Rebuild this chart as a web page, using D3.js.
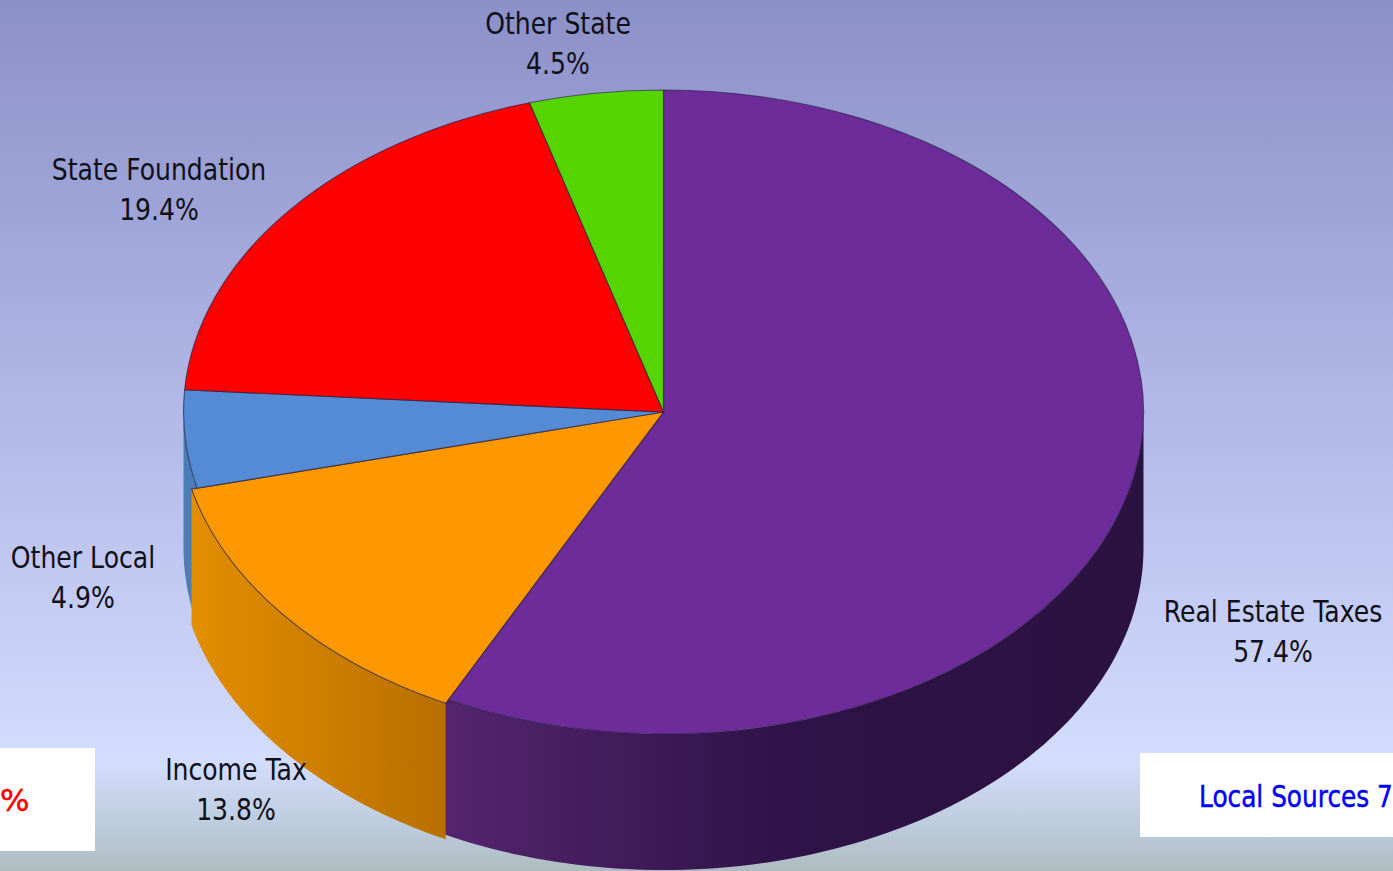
<!DOCTYPE html>
<html>
<head>
<meta charset="utf-8">
<script src="https://cdn.jsdelivr.net/npm/d3@7/dist/d3.min.js"></script>
<style>
  html, body { margin: 0; padding: 0; background: #d4deff; overflow: hidden; }
  svg { display: block; }
  text { font-family: "DejaVu Sans", sans-serif; }
</style>
</head>
<body>
<svg id="chart" width="1393" height="871"></svg>
<script>
// Revenue shares, clockwise from twelve o'clock
const categories = ["Real Estate Taxes", "Income Tax", "Other Local", "State Foundation", "Other State"];
const shares = [57.4, 13.8, 4.9, 19.4, 4.5];
const shareLabels = ["57.4%", "13.8%", "4.9%", "19.4%", "4.5%"];
const topColors = ["#6d2c9a", "#fd9800", "#558ad4", "#ff0000", "#55d400"];
const wallStops = [
  [["0", "#54256f"], ["0.5", "#2f1247"], ["1", "#2b1240"]],
  [["0", "#e38e00"], ["1", "#b86f00"]],
  [["0", "#4c7db8"], ["1", "#4c7db8"]],
  [["0", "#cc0000"], ["1", "#cc0000"]],
  [["0", "#44aa00"], ["1", "#44aa00"]]
];
// The income tax wedge sits very slightly proud of the rest of the disc
const rimScale = [1, 1.012, 1, 1, 1];

// Label centres and the boxes along the bottom edge
const labelCentres = [[1273, 611], [236, 769], [83, 557], [159, 169], [558, 23]];
const boxes = [
  { x: -2, y: 748, width: 97, height: 103 },
  { x: 1140, y: 753, width: 255, height: 84 }
];
const boxTexts = [
  { text: "%", x: 0, y: 811, color: "#ff0000", stretch: 1 },
  { text: "Local Sources 7", x: 1199, y: 807, color: "#0000ff", stretch: 0.8 }
];

const centre = { x: 663.5, y: 412 };
const rx = 480, ry = 322, depth = 136;

const svg = d3.select("#chart");
const defs = svg.append("defs");

// Backdrop: blue-violet wash that turns grey-green at the foot
const bg = defs.append("linearGradient").attr("id", "backdrop")
  .attr("x1", 0).attr("y1", 0).attr("x2", 0).attr("y2", 1);
[[0, "#8c90c8"], [0.45, "#b0b6e6"], [0.875, "#d3ddfd"], [0.95, "#bccbdc"], [1, "#aebcc0"]]
  .forEach(([o, c]) => bg.append("stop").attr("offset", o).attr("stop-color", c));
svg.append("rect").attr("width", 1393).attr("height", 871).attr("fill", "url(#backdrop)");

const pie = d3.pie().sort(null).value(d => d.value);
const slices = pie(categories.map((name, i) => ({ name, value: shares[i], i })));

// Ellipse coordinates for a pie angle (0 at the top, clockwise)
const ex = (a, k) => centre.x + k * rx * Math.sin(a);
const ey = (a, k) => centre.y - k * ry * Math.cos(a);

// Rim walls: only the part of each slice on the near half of the ellipse is visible.
// A wall runs a little way under a raised neighbour so no seam shows between them,
// and raised wedges are painted last.
const seamOverlap = 0.012;
const near = slices
  .map(s => {
    const i = s.data.i;
    const tuck = rimScale[i + 1] > rimScale[i] ? seamOverlap : 0;
    return { s, a0: Math.max(s.startAngle, Math.PI / 2), a1: Math.min(s.endAngle + tuck, Math.PI * 1.5) };
  })
  .filter(d => d.a1 > d.a0)
  .sort((p, q) => rimScale[p.s.data.i] - rimScale[q.s.data.i]);

near.forEach(d => {
  const k = rimScale[d.s.data.i];
  const xs = [ex(d.a0, k), ex(d.a1, k)];
  const grad = defs.append("linearGradient").attr("id", "wall" + d.s.data.i)
    .attr("gradientUnits", "userSpaceOnUse")
    .attr("x1", d3.min(xs)).attr("x2", d3.max(xs)).attr("y1", 0).attr("y2", 0);
  wallStops[d.s.data.i].forEach(([o, c]) => grad.append("stop").attr("offset", o).attr("stop-color", c));
  const wall = d3.area().x(a => ex(a, k)).y0(a => ey(a, k)).y1(a => ey(a, k) + depth);
  const n = 90;
  const angles = d3.range(n + 1).map(j => d.a0 + (d.a1 - d.a0) * j / n);
  svg.append("path")
    .attr("d", wall(angles))
    .attr("fill", `url(#wall${d.s.data.i})`);
});

// Top face: a circular d3 arc flattened into the ellipse
const arc = d3.arc().innerRadius(0).outerRadius(d => rx * rimScale[d.data.i]);
svg.append("g")
  .attr("transform", `translate(${centre.x},${centre.y}) scale(1,${ry / rx})`)
  .selectAll("path").data(slices).join("path")
  .attr("d", arc)
  .attr("fill", d => topColors[d.data.i])
  .attr("stroke", "rgba(30,25,60,0.6)")
  .attr("stroke-width", 1.2)
  .attr("vector-effect", "non-scaling-stroke");

// Slice captions, narrowed to the tall condensed look of the chart's face
const narrow = 0.81;
const caption = svg.append("g").selectAll("g").data(slices).join("g")
  .attr("transform", d => {
    const [x, y] = labelCentres[d.data.i];
    return `translate(${x},${y}) scale(${narrow},1)`;
  })
  .attr("fill", "#101018")
  .attr("font-size", 31)
  .attr("text-anchor", "middle");
caption.append("text").attr("y", 11).text(d => d.data.name);
caption.append("text").attr("y", 51).text(d => shareLabels[d.data.i]);

// White callout boxes
svg.selectAll("rect.box").data(boxes).join("rect").attr("class", "box")
  .attr("x", d => d.x).attr("y", d => d.y)
  .attr("width", d => d.width).attr("height", d => d.height)
  .attr("fill", "#ffffff");
svg.selectAll("text.box").data(boxTexts).join("text").attr("class", "box")
  .attr("transform", d => `translate(${d.x},${d.y}) scale(${d.stretch},1)`)
  .attr("font-size", 31)
  .attr("fill", d => d.color)
  .attr("stroke", d => d.color)
  .attr("stroke-width", 0.5)
  .text(d => d.text);
</script>
</body>
</html>
